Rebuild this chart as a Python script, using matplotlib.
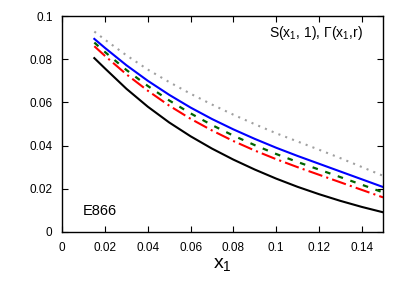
import matplotlib
matplotlib.use("Agg")
import matplotlib.pyplot as plt

plt.rcParams['font.family'] = ['Liberation Sans', 'DejaVu Sans']
plt.rcParams['mathtext.fontset'] = 'custom'
plt.rcParams['mathtext.rm'] = 'Liberation Sans'
plt.rcParams['mathtext.it'] = 'Liberation Sans:italic'

# x1 values
x1 = [0.015, 0.02, 0.03, 0.04, 0.05, 0.06, 0.07, 0.08, 0.09, 0.10, 0.11, 0.12, 0.13, 0.14, 0.15]

gray_dot = [0.0928, 0.0890, 0.0818, 0.0752, 0.0694, 0.0640, 0.0590, 0.0543, 0.0499, 0.0457, 0.0419, 0.0381, 0.0342, 0.0301, 0.0260]
blue = [0.0894, 0.0852, 0.0772, 0.0700, 0.0635, 0.0576, 0.0523, 0.0475, 0.0431, 0.0390, 0.0352, 0.0316, 0.0280, 0.0244, 0.0208]
green = [0.0877, 0.0833, 0.0750, 0.0676, 0.0609, 0.0549, 0.0495, 0.0446, 0.0402, 0.0361, 0.0324, 0.0289, 0.0254, 0.0219, 0.0183]
red = [0.0860, 0.0815, 0.0730, 0.0654, 0.0585, 0.0524, 0.0470, 0.0421, 0.0377, 0.0337, 0.0300, 0.0265, 0.0230, 0.0195, 0.0160]
black = [0.0805, 0.0757, 0.0663, 0.0580, 0.0507, 0.0443, 0.0386, 0.0335, 0.0289, 0.0247, 0.0209, 0.0175, 0.0144, 0.0116, 0.0091]

xticks = [0, 0.02, 0.04, 0.06, 0.08, 0.1, 0.12, 0.14]
xticklabels = ['0', '0.02', '0.04', '0.06', '0.08', '0.1', '0.12', '0.14']
yticks = [0, 0.02, 0.04, 0.06, 0.08, 0.1]
yticklabels = ['0', '0.02', '0.04', '0.06', '0.08', '0.1']

fig = plt.figure(figsize=(4.15, 2.91), dpi=100)
ax = fig.add_axes([0.150, 0.203, 0.773, 0.742])

ax.plot(x1, gray_dot, color='#a0a0a0', lw=1.5, ls=(0, (1, 2.5)))
ax.plot(x1, blue, color='#0000ff', lw=1.5, ls='-')
ax.plot(x1, green, color='#006400', lw=1.6, ls=(0, (2.5, 3.5)))
ax.plot(x1, red, color='#ff0000', lw=1.5, ls=(0, (7, 2, 1, 2)))
ax.plot(x1, black, color='black', lw=1.5, ls='-')

ax.set_xlim(0, 0.15)
ax.set_ylim(0, 0.1)
ax.set_xticks(xticks)
ax.set_xticklabels(xticklabels)
ax.set_yticks(yticks)
ax.set_yticklabels(yticklabels)
ax.tick_params(direction='in', top=True, right=True, length=4, width=0.8, labelsize=8.5, pad=7)
for s in ax.spines.values():
    s.set_linewidth(1.0)

ax.set_xlabel('x$_1$', fontsize=14, labelpad=2)

ax.text(0.938, 0.921, 'S(x$_1$, 1), Γ(x$_1$,r)', transform=ax.transAxes,
        ha='right', va='center', fontsize=10)
ax.text(0.065, 0.095, 'E866', transform=ax.transAxes, ha='left', va='center', fontsize=10.5)

fig.savefig('out.png', dpi=100)
